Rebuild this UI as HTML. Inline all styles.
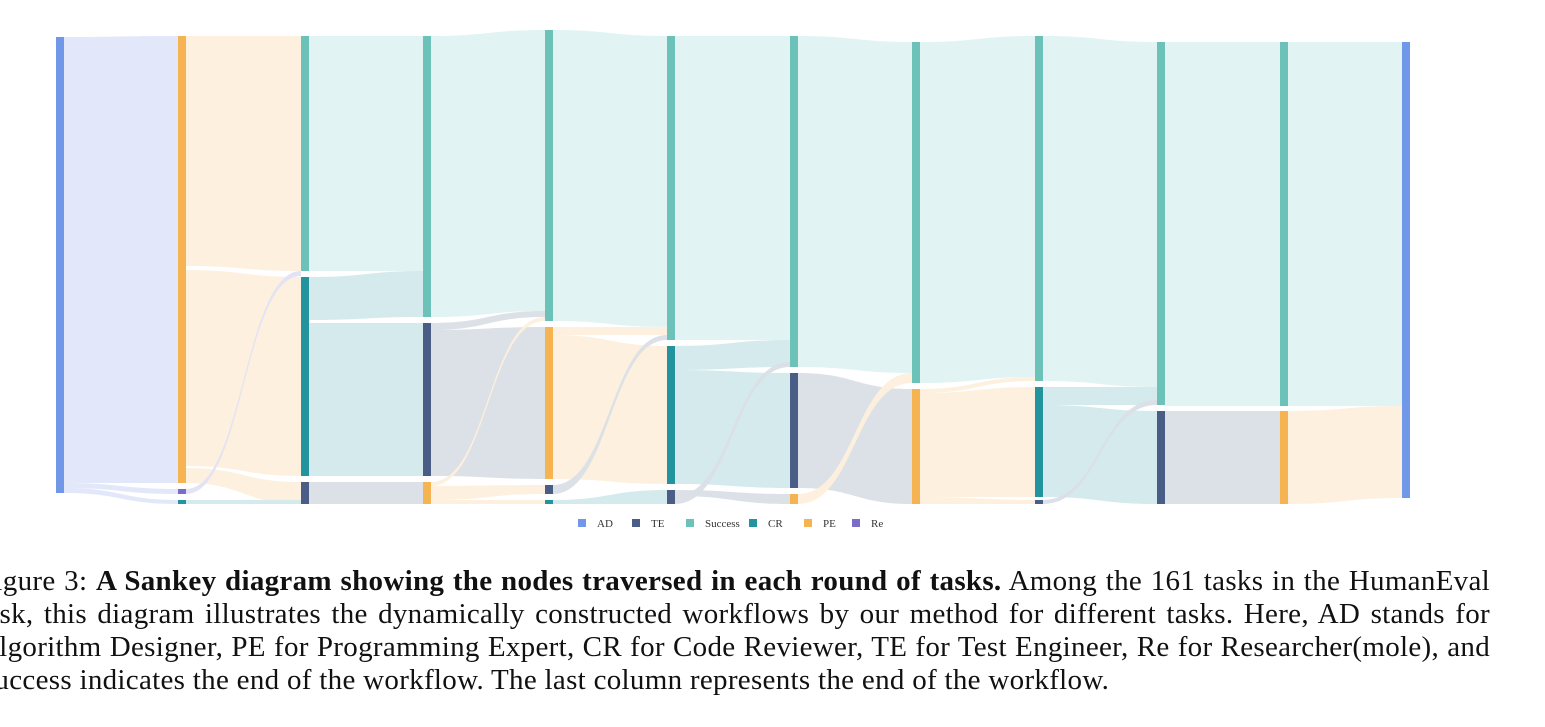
<!DOCTYPE html>
<html><head><meta charset="utf-8">
<style>
body{margin:0;background:#fff;width:1545px;height:727px;overflow:hidden;position:relative;font-family:"Liberation Serif",serif;}
svg{position:absolute;left:0;top:0}
.cap{position:absolute;left:-22px;width:1512px;font-size:29px;letter-spacing:0.3px;line-height:33px;white-space:nowrap;color:#111}
.j{text-align:justify;text-align-last:justify;white-space:normal}
</style></head><body>
<svg id="s" width="1545" height="560" xmlns="http://www.w3.org/2000/svg"></svg>
<div class="cap j" style="top:565px">Figure 3: <b>A Sankey diagram showing the nodes traversed in each round of tasks.</b> Among the 161 tasks in the HumanEval</div>
<div class="cap j" style="top:598px">task, this diagram illustrates the dynamically constructed workflows by our method for different tasks. Here, AD stands for</div>
<div class="cap j" style="top:631px">Algorithm Designer, PE for Programming Expert, CR for Code Reviewer, TE for Test Engineer, Re for Researcher(mole), and</div>
<div class="cap" style="top:664px">Success indicates the end of the workflow. The last column represents the end of the workflow.</div>
<script>
var s=document.getElementById('s'),NS='http://www.w3.org/2000/svg';
var X=[56,178,301,423,545,667,790,912,1035,1157,1280,1402],W=8;
var C={AD:'#7097e8',PE:'#f6b352',Re:'#7a6cc8',CR:'#23939e',S:'#6cc1b8',TE:'#4a5d86'};
var L={AD:'#e0e6fa',PE:'#feefdc',Re:'#e2e2f4',CR:'#d2e9ec',S:'#dff2f1',TE:'#dadfe6'};
function el(t,a){var e=document.createElementNS(NS,t);for(var k in a)e.setAttribute(k,a[k]);s.appendChild(e);return e;}
function lk(c,a0,b0,a1,b1,t){var x0=X[c]+W,x1=X[c+1],m=(x0+x1)/2;
el('path',{d:'M'+x0+','+a0+'C'+m+','+a0+' '+m+','+a1+' '+x1+','+a1+'L'+x1+','+b1+'C'+m+','+b1+' '+m+','+b0+' '+x0+','+b0+'Z',fill:L[t],opacity:0.95});}
lk(0,37,483,36,483,'AD');lk(0,483,488,489,494,'AD');lk(0,488,493,500,504,'AD');
lk(1,36,266,36,271,'PE');lk(1,270,466,277,476,'PE');lk(1,468,483,482,504,'PE');lk(1,489,494,271,276,'Re');lk(1,500,504,500,504,'CR');
lk(2,36,271,36,271,'S');lk(2,277,320,271,317,'CR');lk(2,323,476,323,476,'CR');lk(2,482,504,482,504,'TE');
lk(3,36,317,30,311,'S');lk(3,323,330,311,317,'TE');lk(3,330,476,327,479,'TE');lk(3,482,486,317,321,'PE');lk(3,486,500,485,494,'PE');lk(3,500,504,500,504,'PE');
lk(4,30,321,36,327,'S');lk(4,327,335,327,335,'PE');lk(4,335,479,346,484,'PE');lk(4,485,494,335,340,'TE');lk(4,500,504,490,504,'CR');
lk(5,36,340,36,340,'S');lk(5,346,370,340,367,'CR');lk(5,370,484,373,488,'CR');lk(5,490,496,494,504,'TE');lk(5,496,504,362,367,'TE');
lk(6,36,367,42,373,'S');lk(6,373,488,389,504,'TE');lk(6,494,504,373,383,'PE');
lk(7,42,383,36,377,'S');lk(7,389,393,377,381,'PE');lk(7,393,497,387,497,'PE');lk(7,497,504,500,504,'PE');
lk(8,36,381,42,387,'S');lk(8,387,405,387,405,'CR');lk(8,405,497,411,504,'CR');lk(8,500,504,400,405,'TE');
lk(9,42,406,42,406,'S');lk(9,411,504,411,504,'TE');
lk(10,42,406,42,406,'S');lk(10,411,504,406,498,'PE');
var N=[[0,'AD',37,493],[1,'PE',36,483],[1,'Re',489,494],[1,'CR',500,504],
[2,'S',36,271],[2,'CR',277,476],[2,'TE',482,504],
[3,'S',36,317],[3,'TE',323,476],[3,'PE',482,504],
[4,'S',30,321],[4,'PE',327,479],[4,'TE',485,494],[4,'CR',500,504],
[5,'S',36,340],[5,'CR',346,484],[5,'TE',490,504],
[6,'S',36,367],[6,'TE',373,488],[6,'PE',494,504],
[7,'S',42,383],[7,'PE',389,504],
[8,'S',36,381],[8,'CR',387,497],[8,'TE',500,504],
[9,'S',42,405],[9,'TE',411,504],
[10,'S',42,406],[10,'PE',411,504],[11,'AD',42,498]];
N.forEach(function(n){el('rect',{x:X[n[0]],y:n[2],width:W,height:n[3]-n[2],fill:C[n[1]]});});
[[578,'AD','AD'],[632,'TE','TE'],[686,'S','Success'],[749,'CR','CR'],[804,'PE','PE'],[852,'Re','Re']].forEach(function(g){
el('rect',{x:g[0],y:519,width:8,height:8,fill:C[g[1]]});
var t=el('text',{x:g[0]+19,y:527,'font-size':11,'font-family':'Liberation Serif, serif',fill:'#333'});t.textContent=g[2];});
</script>
</body></html>
